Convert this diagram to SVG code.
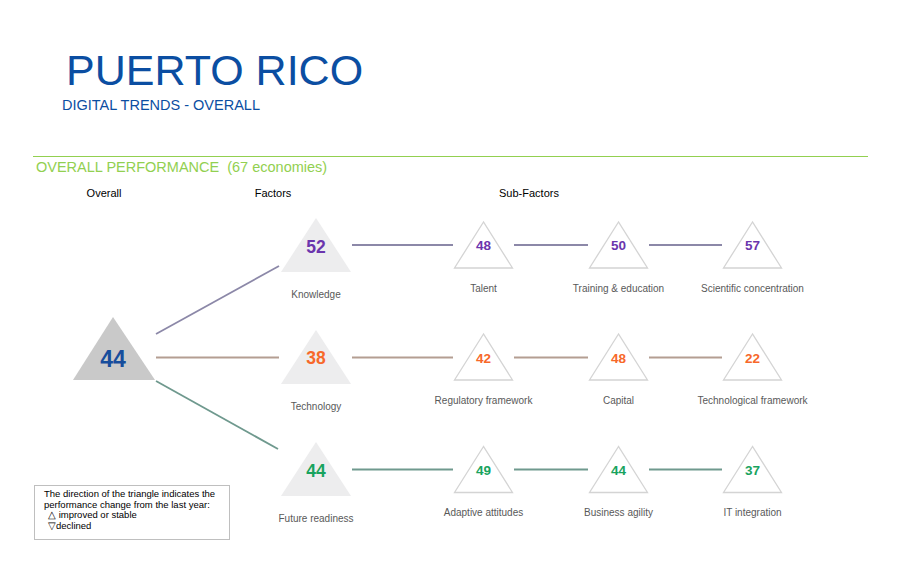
<svg xmlns="http://www.w3.org/2000/svg" width="900" height="583" viewBox="0 0 900 583">
<style>
.lbl{font-family:"Liberation Sans",Arial,sans-serif;font-size:10px;fill:#595959;text-anchor:middle}
.hdr{font-family:"Liberation Sans",Arial,sans-serif;font-size:11px;fill:#000;text-anchor:middle}
.num{font-family:"Liberation Sans",Arial,sans-serif;font-weight:bold;text-anchor:middle}
.sub{fill:#fff;stroke:#d4d4d4;stroke-width:1.3}
.fac{fill:#ededee}
.p{fill:#6b35ad}.o{fill:#f7682a}.g{fill:#18a35e}
.leg{font-family:"Liberation Sans",Arial,sans-serif;font-size:9.5px;fill:#000}
</style>
<rect width="900" height="583" fill="#fff"/>
<text x="66" y="85" font-family="Liberation Sans,Arial,sans-serif" font-size="43" fill="#0b4ea2">PUERTO RICO</text>
<text x="62" y="110" font-family="Liberation Sans,Arial,sans-serif" font-size="14.5" fill="#0b4ea2">DIGITAL TRENDS - OVERALL</text>
<line x1="33" y1="156.5" x2="868" y2="156.5" stroke="#92d050" stroke-width="1.2"/>
<text x="36" y="172" font-family="Liberation Sans,Arial,sans-serif" font-size="14.5" fill="#92d050" xml:space="preserve">OVERALL PERFORMANCE  (67 economies)</text>
<text class="hdr" x="104" y="197">Overall</text>
<text class="hdr" x="273" y="197">Factors</text>
<text class="hdr" x="529" y="197">Sub-Factors</text>
<g id="connectors" stroke-width="1.8" fill="none">
<line x1="156" y1="334" x2="279" y2="266" stroke="#8c88a8"/>
<line x1="156" y1="357.5" x2="279" y2="357.5" stroke="#b49e92"/>
<line x1="156" y1="381" x2="278" y2="449" stroke="#6f998e"/>
<g stroke="#8c88a8">
<line x1="352" y1="245" x2="453" y2="245"/>
<line x1="514" y1="245" x2="588" y2="245"/>
<line x1="649" y1="245" x2="722" y2="245"/>
</g>
<g stroke="#b49e92">
<line x1="352" y1="357.5" x2="453" y2="357.5"/>
<line x1="514" y1="357.5" x2="588" y2="357.5"/>
<line x1="649" y1="357.5" x2="722" y2="357.5"/>
</g>
<g stroke="#6f998e">
<line x1="352" y1="469.5" x2="453" y2="469.5"/>
<line x1="514" y1="469.5" x2="588" y2="469.5"/>
<line x1="649" y1="469.5" x2="722" y2="469.5"/>
</g>
</g>
<g id="overall">
<polygon points="113,317 73,380 155,380" fill="#c9c9c9"/>
<text class="num" x="113" y="366.5" font-size="23" fill="#174d9c">44</text>
</g>
<g id="knowledge">
<polygon class="fac" points="316,218 281,272 351,272"/>
<text class="num p" x="316" y="252.5" font-size="17.5">52</text>
<text class="lbl" x="316" y="298">Knowledge</text>
</g>
<g id="technology">
<polygon class="fac" points="316,330 281,384 351,384"/>
<text class="num o" x="316" y="364" font-size="17.5">38</text>
<text class="lbl" x="316" y="410">Technology</text>
</g>
<g id="future">
<polygon class="fac" points="316,442 281,496 351,496"/>
<text class="num g" x="316" y="477" font-size="17.5">44</text>
<text class="lbl" x="316" y="522">Future readiness</text>
</g>
<g id="talent">
<polygon class="sub" points="483.5,222 454.5,268 512.5,268"/>
<text class="num p" x="483.5" y="250" font-size="13.5">48</text>
<text class="lbl" x="483.5" y="292">Talent</text>
</g>
<g id="training">
<polygon class="sub" points="618.5,222 589.5,268 647.5,268"/>
<text class="num p" x="618.5" y="250" font-size="13.5">50</text>
<text class="lbl" x="618.5" y="292">Training &amp; education</text>
</g>
<g id="scientific">
<polygon class="sub" points="752.5,222 723.5,268 781.5,268"/>
<text class="num p" x="752.5" y="250" font-size="13.5">57</text>
<text class="lbl" x="752.5" y="292">Scientific concentration</text>
</g>
<g id="regulatory">
<polygon class="sub" points="483.5,334 454.5,380 512.5,380"/>
<text class="num o" x="483.5" y="362.5" font-size="13.5">42</text>
<text class="lbl" x="483.5" y="404">Regulatory framework</text>
</g>
<g id="capital">
<polygon class="sub" points="618.5,334 589.5,380 647.5,380"/>
<text class="num o" x="618.5" y="362.5" font-size="13.5">48</text>
<text class="lbl" x="618.5" y="404">Capital</text>
</g>
<g id="techframework">
<polygon class="sub" points="752.5,334 723.5,380 781.5,380"/>
<text class="num o" x="752.5" y="362.5" font-size="13.5">22</text>
<text class="lbl" x="752.5" y="404">Technological framework</text>
</g>
<g id="adaptive">
<polygon class="sub" points="483.5,446.5 454.5,492.5 512.5,492.5"/>
<text class="num g" x="483.5" y="474.5" font-size="13.5">49</text>
<text class="lbl" x="483.5" y="516">Adaptive attitudes</text>
</g>
<g id="agility">
<polygon class="sub" points="618.5,446.5 589.5,492.5 647.5,492.5"/>
<text class="num g" x="618.5" y="474.5" font-size="13.5">44</text>
<text class="lbl" x="618.5" y="516">Business agility</text>
</g>
<g id="itintegration">
<polygon class="sub" points="752.5,446.5 723.5,492.5 781.5,492.5"/>
<text class="num g" x="752.5" y="474.5" font-size="13.5">37</text>
<text class="lbl" x="752.5" y="516">IT integration</text>
</g>
<g id="legend">
<rect x="34.5" y="485.5" width="195" height="54" fill="#fff" stroke="#bfbfbf" stroke-width="1"/>
<text class="leg" x="44" y="497">The direction of the triangle indicates the</text>
<text class="leg" x="44" y="507.5">performance change from the last year:</text>
<text class="leg" x="48" y="518">△ improved or stable</text>
<text class="leg" x="48" y="528.5">▽declined</text>
</g>
</svg>
